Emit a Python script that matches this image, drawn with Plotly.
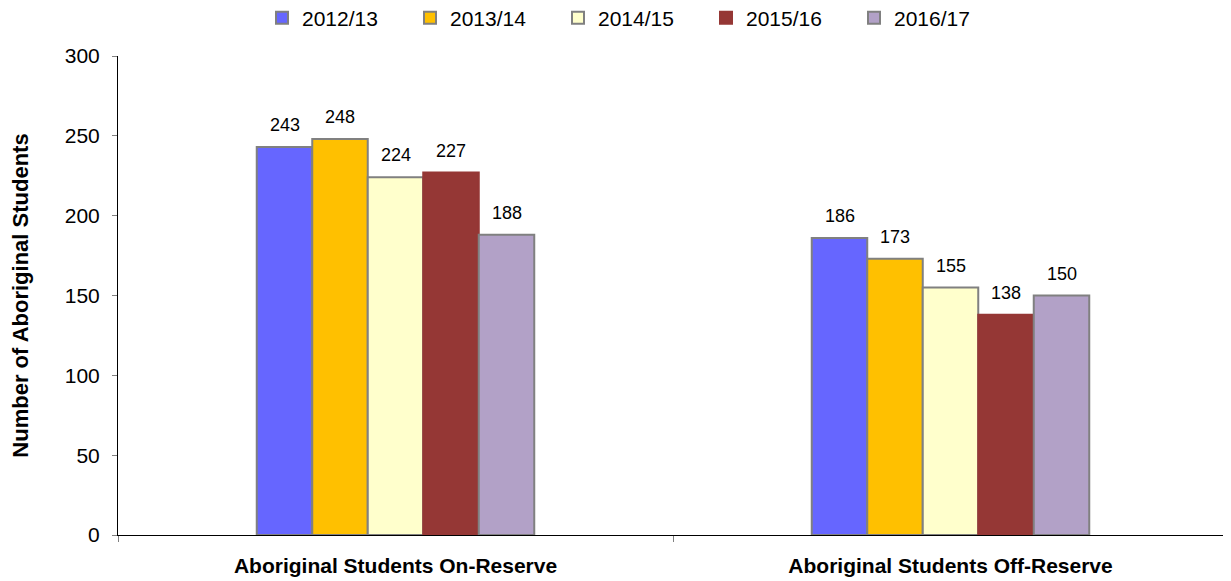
import plotly.graph_objects as go

categories = ["Aboriginal Students On-Reserve", "Aboriginal Students Off-Reserve"]
series_names = ["2012/13", "2013/14", "2014/15", "2015/16", "2016/17"]
values_2012 = [243, 186]
values_2013 = [248, 173]
values_2014 = [224, 155]
values_2015 = [227, 138]
values_2016 = [188, 150]
colors = ["#6666FF", "#FFC000", "#FFFFCC", "#953735", "#B2A1C7"]
outline = ["#808080", "#808080", "#808080", "#953735", "#808080"]
y_ticks = [0, 50, 100, 150, 200, 250, 300]

series = [values_2012, values_2013, values_2014, values_2015, values_2016]

BARGAP = 0.5
n_series = len(series)
bar_w = (1 - BARGAP) / n_series

W, H = 1223, 573

fig = go.Figure()
annotations = []
for i, (name, vals, c, oc) in enumerate(zip(series_names, series, colors, outline)):
    fig.add_trace(go.Bar(
        x=categories, y=vals, name=name,
        marker=dict(color=c, line=dict(color=oc, width=2)),
    ))
    for j, v in enumerate(vals):
        annotations.append(dict(
            x=j + (i - (n_series - 1) / 2) * bar_w, y=v, xref="x", yref="y",
            text=str(v), showarrow=False, yanchor="bottom", yshift=10,
            font=dict(family="Arial", size=18, color="black"),
        ))

fig.update_layout(
    width=W, height=H,
    paper_bgcolor="white", plot_bgcolor="white",
    margin=dict(l=110, r=3, t=48, b=46, autoexpand=False),
    barmode="group", bargap=BARGAP, bargroupgap=0,
    font=dict(family="Arial", size=21, color="black"),
    annotations=annotations,
    legend=dict(orientation="h", xref="container", yref="container",
                x=254 / W, xanchor="left", y=1 - 10 / H, yanchor="middle",
                font=dict(family="Arial", size=21), entrywidth=103, itemwidth=30,
                traceorder="normal", tracegroupgap=0),
    xaxis=dict(showline=True, linecolor="black", linewidth=1,
               ticks="outside", tickson="boundaries", ticklen=6, tickcolor="#808080",
               ticklabelstandoff=12,
               tickfont=dict(family="Arial", size=21, weight="bold")),
    yaxis=dict(range=[0, 300], tickvals=y_ticks, showline=True, linecolor="black",
               linewidth=1, ticks="outside", ticklen=5, tickcolor="#808080",
               showgrid=False, zeroline=False, ticklabelstandoff=8,
               tickfont=dict(family="Arial", size=21),
               title=dict(text="Number of Aboriginal Students",
                          font=dict(family="Arial", size=22, weight="bold"), standoff=30)),
)

fig.write_html("out.html")
